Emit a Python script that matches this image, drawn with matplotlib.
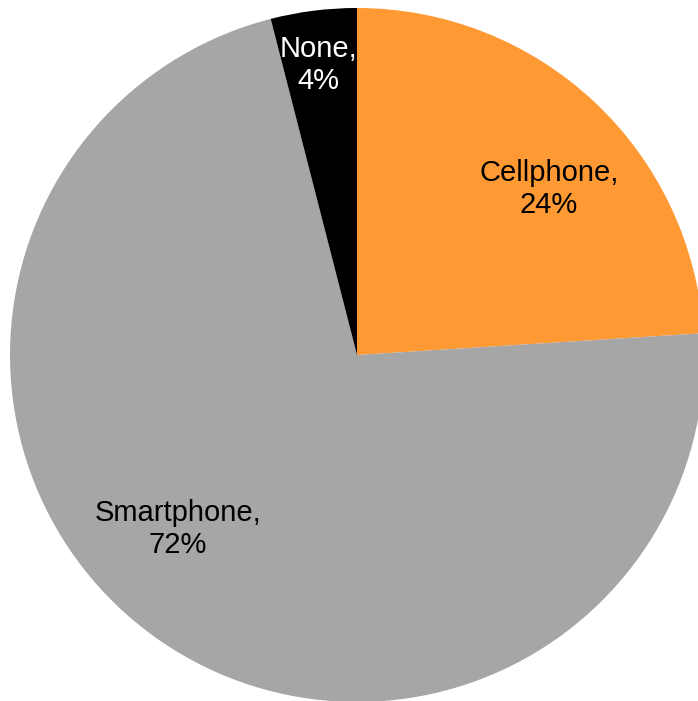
import matplotlib.pyplot as plt

labels = ['Cellphone', 'Smartphone', 'None']
shares = [24, 72, 4]
colors = ['#FF9933', '#A6A6A6', '#000000']
text_colors = ['black', 'black', 'white']
# label anchor points in pie-radius units
label_xy = [(0.553, 0.478), (-0.516, -0.502), (-0.112, 0.836)]

plt.rcParams['font.family'] = ['Liberation Sans', 'DejaVu Sans']

fig = plt.figure(figsize=(6.98, 7.01), dpi=100)
cx, cy, r = 357, 346, 347
ax = fig.add_axes([(cx - r) / 698, (cy - r) / 701, 2 * r / 698, 2 * r / 701])

ax.pie(shares, colors=colors, startangle=90, counterclock=False,
       radius=1, wedgeprops=dict(linewidth=0))
ax.set_xlim(-1, 1)
ax.set_ylim(-1, 1)
ax.set_aspect('equal')
ax.axis('off')

for name, val, (x, y), tc in zip(labels, shares, label_xy, text_colors):
    ax.text(x, y, f'{name},\n{val}%', ha='center', va='center',
            fontsize=21, color=tc, linespacing=1.2)

fig.savefig('out.png', dpi=100)
